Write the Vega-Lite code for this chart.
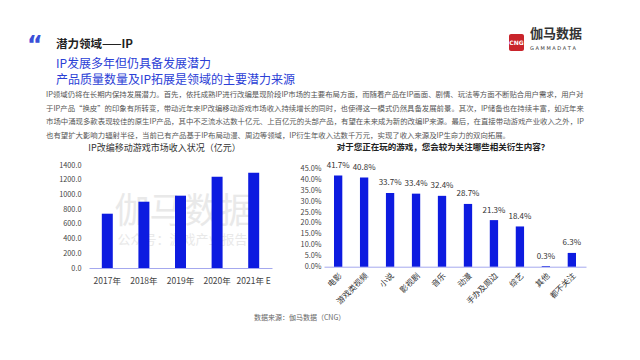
{
  "$schema": "https://vega.github.io/schema/vega-lite/v6.json",
  "background": "white",
  "padding": {"left": 27, "top": 28, "right": 5, "bottom": 5},
  "config": {
    "font": "Noto Sans CJK SC",
    "view": {"stroke": null},
    "axis": {"grid": false, "ticks": false, "domain": false, "title": null, "labelFont": "Noto Sans CJK SC", "labelColor": "#444"}
  },
  "title": {"text": "数据来源：伽马数据（CNG）", "orient": "bottom", "anchor": "middle", "fontSize": 7, "fontWeight": "normal", "color": "#666", "offset": 8, "dx": -7},
  "spacing": 0,
  "vconcat": [
    {
      "spacing": 0,
      "hconcat": [
        {"width": 28, "height": 24, "data": {"values": [{}]}, "mark": {"type": "text", "text": "“", "font": "DejaVu Sans", "fontSize": 24, "fontWeight": "bold", "color": "#3a4fd8", "baseline": "top", "align": "center", "dy": -12, "dx": -7}, "encoding": {}},
        {"width": 453, "height": 0, "data": {"values": []}, "mark": "point", "encoding": {}, "title": {"text": "潜力领域——IP", "orient": "top", "anchor": "start", "offset": -16, "fontSize": 11.5, "fontWeight": "bold", "color": "#222"}},
        {"width": 15, "height": 17, "view": {"fill": "#c9242b", "cornerRadius": 2, "stroke": null}, "data": {"values": [{}]}, "mark": {"type": "text", "text": "CNG", "font": "DejaVu Sans", "fontSize": 6, "fontWeight": "bold", "color": "white"}, "encoding": {}},
        {"width": 62, "height": 0, "data": {"values": []}, "mark": "point", "encoding": {}, "title": {"text": "伽马数据", "subtitle": "G A M M A   D A T A", "orient": "top", "anchor": "start", "offset": -17, "dx": 6, "fontSize": 13, "fontWeight": "bold", "color": "#333", "subtitleFontSize": 5, "subtitleColor": "#333", "subtitlePadding": 5, "subtitleFont": "DejaVu Sans"}}
      ]
    },
    {"width": 1, "height": 4, "data": {"values": []}, "mark": "point", "encoding": {}, "title": {"text": ["IP发展多年但仍具备发展潜力", "产品质量数量及IP拓展是领域的主要潜力来源"], "anchor": "start", "dx": 28, "offset": 0, "fontSize": 12, "fontWeight": "normal", "color": "#2b40d6", "lineHeight": 16}},
    {"width": 1, "height": 4, "data": {"values": []}, "mark": "point", "encoding": {}, "title": {"text": [
      "IP领域仍将在长期内保持发展潜力。首先，依托成熟IP进行改编是现阶段IP市场的主要布局方面，而随着产品在IP画面、剧情、玩法等方面不断贴合用户需求，用户对",
      "于IP产品“换皮”的印象有所转变，带动近年来IP改编移动游戏市场收入持续增长的同时，也使得这一模式仍然具备发展前景。其次，IP储备也在持续丰富，如近年来",
      "市场中涌现多款表现较佳的原生IP产品，其中不乏流水达数十亿元、上百亿元的头部产品，有望在未来成为新的改编IP来源。最后，在直接带动游戏产业收入之外，IP",
      "也有望扩大影响力辐射半径，当前已有产品基于IP布局动漫、周边等领域，IP衍生年收入达数千万元，实现了收入来源及IP生命力的双向拓展。"
    ], "anchor": "start", "dx": 18, "offset": 0, "fontSize": 7.4, "fontWeight": "normal", "color": "#555", "lineHeight": 13.5}},
    {
      "spacing": 28,
      "hconcat": [
        {"width": 2, "height": 1, "data": {"values": []}, "mark": "point", "encoding": {}},
        {
          "width": 183, "height": 103,
          "title": {"text": "IP改编移动游戏市场收入状况（亿元）", "fontSize": 9, "fontWeight": "normal", "color": "#333", "anchor": "middle", "dx": -16, "offset": 8},
          "data": {"values": [
            {"year": "2017年", "revenue": 738},
            {"year": "2018年", "revenue": 901},
            {"year": "2019年", "revenue": 983},
            {"year": "2020年", "revenue": 1241},
            {"year": "2021年 E", "revenue": 1295}
          ]},
          "layer": [
            {"data": {"values": [{}]}, "mark": {"type": "text", "text": "伽马数据", "fontSize": 35, "color": "#e9e9e9", "dx": 4, "dy": -5}, "encoding": {}},
            {"data": {"values": [{}]}, "mark": {"type": "text", "text": "公众号：游戏产业报告", "fontSize": 13, "color": "#e9e9e9", "dx": 2, "dy": 23}, "encoding": {}},
            {"mark": {"type": "bar", "color": "#0d1be0"},
             "encoding": {
               "x": {"field": "year", "type": "nominal", "sort": null, "scale": {"paddingInner": 0.7, "paddingOuter": 0.35},
                     "axis": {"labelAngle": 0, "labelFontSize": 8.5, "labelPadding": 8, "domain": true, "domainColor": "#a4a8ee", "ticks": false}},
               "y": {"field": "revenue", "type": "quantitative", "scale": {"domain": [0, 1400], "nice": false},
                     "axis": {"values": [0, 200, 400, 600, 800, 1000, 1200, 1400], "format": ".1f", "labelFontSize": 7.3, "labelPadding": 8}}
             }}
          ]
        },
        {
          "width": 262, "height": 101.7,
          "title": {"text": "对于您正在玩的游戏，您会较为关注哪些相关衍生内容？", "fontSize": 8.5, "fontWeight": "bold", "color": "#222", "anchor": "middle", "dx": -12, "offset": 10},
          "data": {"values": [
            {"item": "电影", "share": 0.417},
            {"item": "游戏类视频", "share": 0.408},
            {"item": "小说", "share": 0.337},
            {"item": "影视剧", "share": 0.334},
            {"item": "音乐", "share": 0.324},
            {"item": "动漫", "share": 0.287},
            {"item": "手办及周边", "share": 0.213},
            {"item": "综艺", "share": 0.184},
            {"item": "其他", "share": 0.003},
            {"item": "都不关注", "share": 0.063}
          ]},
          "encoding": {
            "x": {"field": "item", "type": "nominal", "sort": null, "scale": {"paddingInner": 0.68, "paddingOuter": 0.385},
                  "axis": {"labelAngle": -45, "labelFontSize": 8, "labelColor": "#333", "labelPadding": 5, "domain": true, "domainColor": "#a4a8ee", "ticks": false}},
            "y": {"field": "share", "type": "quantitative", "scale": {"domain": [0, 0.465], "nice": false},
                  "axis": {"values": [0, 0.05, 0.1, 0.15, 0.2, 0.25, 0.3, 0.35, 0.4, 0.45], "format": ".1%", "labelFontSize": 7.3, "labelPadding": 3}}
          },
          "layer": [
            {"data": {"values": [{}]}, "mark": {"type": "text", "text": "伽马数据", "fontSize": 35, "color": "#e9e9e9", "dx": -23, "dy": -10}, "encoding": {}},
            {"data": {"values": [{}]}, "mark": {"type": "text", "text": "公众号：游戏产业报告", "fontSize": 13, "color": "#e9e9e9", "dx": -26, "dy": 23}, "encoding": {}},
            {"mark": {"type": "bar", "color": "#0d1be0"}},
            {"mark": {"type": "text", "dy": -9.5, "fontSize": 8, "color": "#333"}, "encoding": {"text": {"field": "share", "type": "quantitative", "format": ".1%"}}}
          ]
        }
      ]
    }
  ]
}
